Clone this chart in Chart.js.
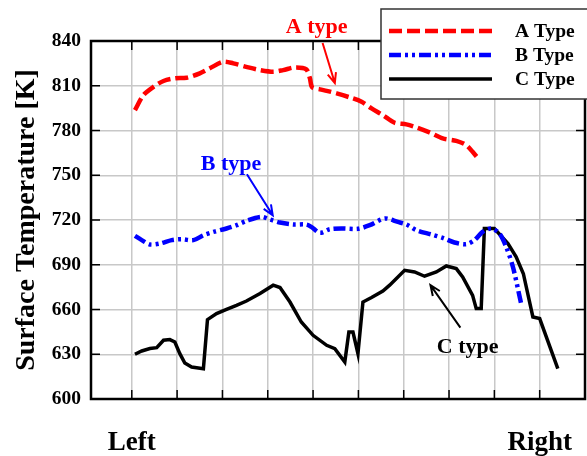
<!DOCTYPE html>
<html>
<head>
<meta charset="utf-8">
<script src="https://cdn.jsdelivr.net/npm/chart.js@4.4.1/dist/chart.umd.min.js"></script>
<style>
html, body { margin: 0; padding: 0; background: #fff; }
</style>
</head>
<body>
<canvas id="chart" width="587" height="456"></canvas>
<script>
// Positions along the surface (grid units), Left = 1, Right = 10
const xTickVals = [1, 2, 3, 4, 5, 6, 7, 8, 9, 10, 11];
const xTickLabels = { 1: 'Left', 10: 'Right' };
const yTickVals = [600, 630, 660, 690, 720, 750, 780, 810, 840];

// A type (red dashed)
const aX = [1.07, 1.26, 1.48, 1.70, 1.95, 2.21, 2.50, 2.72, 3.02, 3.24, 3.57, 3.83, 4.12, 4.34, 4.60, 4.85, 4.93, 4.98,
    5.15, 5.30, 5.52, 5.81, 6.07, 6.29, 6.54, 6.80, 7.06, 7.28, 7.57, 7.86, 8.16, 8.38, 8.52, 8.66];
const aY = [793.7, 803.8, 809.3, 813.2, 815, 815.4, 818.3, 821.7, 826.1, 825, 822.3, 820.5, 819.4, 820.5, 822.3, 821, 815, 809,
    807.6, 806.6, 804.9, 802.2, 799.3, 794.8, 790.3, 785.2, 784.1, 782.1, 778.7, 774.7, 773.1, 770.2, 765.7, 760.6];

// B type (blue dash-dot-dot)
const bX = [1.07, 1.22, 1.40, 1.62, 1.88, 2.10, 2.36, 2.58, 2.80, 3.09, 3.31, 3.53, 3.86, 4.05, 4.27, 4.56, 4.85, 4.96,
    5.15, 5.37, 5.66, 5.99, 6.25, 6.58, 6.87, 7.06, 7.28, 7.61, 7.86, 8.12, 8.38, 8.56, 8.74, 8.93, 9.11, 9.26, 9.41, 9.59];
const bY = [709.4, 706.5, 703.6, 704.2, 706.5, 707.1, 706.5, 709.8, 712, 714.3, 716.5, 719.4, 722.1, 720.3, 718.3, 717, 717, 715.4,
    711.4, 713.8, 714.3, 714.1, 716.5, 721, 718.7, 717, 713.2, 710.3, 708, 704.9, 703.8, 706.5, 712, 714.3, 711, 702, 688.5, 664];

// C type (black solid)
const cX = [1.07, 1.22, 1.40, 1.55, 1.70, 1.84, 1.95, 2.06, 2.17, 2.32, 2.58, 2.67, 2.87, 3.09, 3.31, 3.53, 3.83, 4.12, 4.27,
    4.49, 4.74, 5.0, 5.30, 5.48, 5.70, 5.79, 5.88, 5.99, 6.10, 6.29, 6.54, 6.69, 7.02, 7.24, 7.46, 7.72, 7.94, 8.16, 8.30,
    8.52, 8.60, 8.71, 8.78, 9.0, 9.30, 9.48, 9.64, 9.85, 10.0, 10.40];
const cY = [630, 632.2, 633.8, 634.4, 639.4, 639.8, 638.2, 630.4, 624.1, 621.4, 620.3, 653.2, 657.3, 660.1, 662.8, 665.7, 670.7, 676.3, 674.7,
    665, 651.6, 642.7, 636, 633.8, 624.8, 644.9, 644.9, 630.4, 665, 668, 672.4, 676.3, 686.3, 685.2, 682.3, 685.2, 689.2, 687.4, 681.8,
    669.5, 660.6, 660.6, 714.3, 714.3, 704.2, 695.3, 684, 655, 653.9, 620.3];

const seriesNames = ['A Type', 'B Type', 'C Type'];

// Callout labels with arrows, in data coordinates
const callouts = [
    { text: 'A type', color: '#ff0000', tx: 5.08, ty: 849.4, from: [5.21, 838.7], to: [5.48, 811.8] },
    { text: 'B type', color: '#0000ff', tx: 3.19, ty: 757.5, from: [3.54, 750.7], to: [4.11, 723.2] },
    { text: 'C type', color: '#000000', tx: 8.41, ty: 634.7, from: [8.25, 647.9], to: [7.59, 676.3] }
];

const serif = '"Liberation Serif", "Times New Roman", serif';

function toPoints(xs, ys) {
    return xs.map((x, i) => ({ x: x, y: ys[i] }));
}

// Frame round the plot with inward ticks
const framePlugin = {
    id: 'frame',
    afterDraw(chart) {
        const ctx = chart.ctx;
        const a = chart.chartArea;
        const xs = chart.scales.x, ys = chart.scales.y;
        const len = 9;
        ctx.save();
        ctx.strokeStyle = '#000';
        ctx.lineWidth = 1.5;
        ctx.beginPath();
        for (const v of xTickVals.slice(0, -1)) {
            const px = xs.getPixelForValue(v);
            ctx.moveTo(px, a.top); ctx.lineTo(px, a.top + len);
            ctx.moveTo(px, a.bottom); ctx.lineTo(px, a.bottom - len);
        }
        for (const v of yTickVals.slice(1, -1)) {
            const py = ys.getPixelForValue(v);
            ctx.moveTo(a.left, py); ctx.lineTo(a.left + len, py);
            ctx.moveTo(a.right, py); ctx.lineTo(a.right - len, py);
        }
        ctx.stroke();
        ctx.lineWidth = 2.5;
        ctx.strokeRect(a.left, a.top, a.right - a.left, a.bottom - a.top);
        ctx.restore();
    }
};

// Boxed legend in the upper right corner
const legendPlugin = {
    id: 'boxLegend',
    afterDraw(chart) {
        const ctx = chart.ctx;
        const box = { x: 381, y: 9, w: 210, h: 90 };
        const rows = [31, 55, 79];
        ctx.save();
        ctx.fillStyle = '#fff';
        ctx.fillRect(box.x, box.y, box.w, box.h);
        ctx.strokeStyle = '#333';
        ctx.lineWidth = 1.5;
        ctx.strokeRect(box.x, box.y, box.w, box.h);
        chart.data.datasets.forEach((ds, i) => {
            ctx.strokeStyle = ds.borderColor;
            ctx.lineWidth = ds.borderWidth;
            ctx.setLineDash(ds.borderDash || []);
            ctx.beginPath();
            ctx.moveTo(389, rows[i]);
            ctx.lineTo(492, rows[i]);
            ctx.stroke();
            ctx.setLineDash([]);
            ctx.fillStyle = '#000';
            ctx.font = 'bold 19.5px ' + serif;
            ctx.textBaseline = 'middle';
            ctx.textAlign = 'left';
            ctx.fillText(ds.label, 515, rows[i] + 1);
        });
        ctx.restore();
    }
};

// Callout texts and arrows
const calloutPlugin = {
    id: 'callouts',
    afterDatasetsDraw(chart) {
        const ctx = chart.ctx;
        const xs = chart.scales.x, ys = chart.scales.y;
        ctx.save();
        for (const c of callouts) {
            const x0 = xs.getPixelForValue(c.from[0]), y0 = ys.getPixelForValue(c.from[1]);
            const x1 = xs.getPixelForValue(c.to[0]), y1 = ys.getPixelForValue(c.to[1]);
            ctx.strokeStyle = c.color;
            ctx.lineWidth = 2;
            ctx.beginPath();
            ctx.moveTo(x0, y0); ctx.lineTo(x1, y1);
            const ang = Math.atan2(y1 - y0, x1 - x0);
            const hl = 11, hw = 0.4;
            ctx.moveTo(x1 - hl * Math.cos(ang - hw), y1 - hl * Math.sin(ang - hw));
            ctx.lineTo(x1, y1);
            ctx.lineTo(x1 - hl * Math.cos(ang + hw), y1 - hl * Math.sin(ang + hw));
            ctx.stroke();
            ctx.fillStyle = c.color;
            ctx.font = 'bold 22px ' + serif;
            ctx.textAlign = 'center';
            ctx.textBaseline = 'middle';
            ctx.fillText(c.text, xs.getPixelForValue(c.tx), ys.getPixelForValue(c.ty));
        }
        ctx.restore();
    }
};

const chartConfig = {
    type: 'line',
    data: {
        datasets: [{
            label: seriesNames[0],
            data: toPoints(aX, aY),
            borderColor: '#ff0000',
            borderWidth: 4.5,
            borderDash: [13, 5],
            tension: 0.3
        }, {
            label: seriesNames[1],
            data: toPoints(bX, bY),
            borderColor: '#0000ff',
            borderWidth: 4.5,
            borderDash: [12, 4, 3, 4, 3, 4],
            tension: 0.3
        }, {
            label: seriesNames[2],
            data: toPoints(cX, cY),
            borderColor: '#000000',
            borderWidth: 3.5,
            tension: 0
        }]
    },
    options: {
        responsive: false,
        animation: false,
        elements: { point: { radius: 0 } },
        layout: { padding: { top: 41, right: 2, left: 0, bottom: 0 } },
        scales: {
            x: {
                type: 'linear',
                min: 0.1,
                max: 11,
                afterBuildTicks: (s) => { s.ticks = xTickVals.map(v => ({ value: v })); },
                afterFit: (s) => { s.height = 57; s.paddingLeft = 0; s.paddingRight = 0; },
                grid: { color: '#c8c8c8', lineWidth: 1.5, drawTicks: false },
                border: { display: false },
                ticks: {
                    autoSkip: false,
                    maxRotation: 0,
                    padding: 28,
                    color: '#000',
                    font: { family: serif, size: 27, weight: 'bold' },
                    callback: (v) => xTickLabels[v] || ''
                }
            },
            y: {
                min: 600,
                max: 840,
                afterBuildTicks: (s) => { s.ticks = yTickVals.map(v => ({ value: v })); },
                afterFit: (s) => { s.width = 91; s.paddingTop = 0; s.paddingBottom = 0; },
                grid: { color: '#c8c8c8', lineWidth: 1.5, drawTicks: false },
                border: { display: false },
                ticks: {
                    padding: 10,
                    color: '#000',
                    font: { family: serif, size: 19.5, weight: 'bold' }
                },
                title: {
                    display: true,
                    text: 'Surface Temperature [K]',
                    color: '#000',
                    font: { family: serif, size: 28, weight: 'bold' },
                    padding: { top: 10, bottom: 0 }
                }
            }
        },
        plugins: {
            legend: { display: false },
            tooltip: { enabled: false }
        }
    },
    plugins: [calloutPlugin, framePlugin, legendPlugin]
};

const chart = new Chart('chart', chartConfig);
</script>
</body>
</html>
